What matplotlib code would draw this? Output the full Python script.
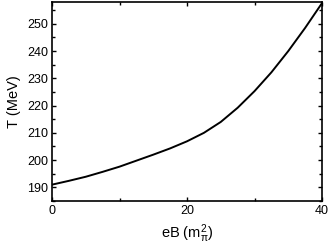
import matplotlib
matplotlib.use("Agg")
import matplotlib.pyplot as plt
from matplotlib.ticker import MultipleLocator

eB = [0, 2.5, 5, 7.5, 10, 12.5, 15, 17.5, 20, 22.5, 25, 27.5, 30, 32.5, 35, 37.5, 40]
T = [191.0, 192.4, 193.9, 195.7, 197.6, 199.8, 202.0, 204.3, 206.9, 210.0,
     214.0, 219.2, 225.3, 232.2, 240.0, 248.5, 257.6]

yticks = [190, 200, 210, 220, 230, 240, 250]
xticks = [0, 20, 40]

plt.rcParams['font.family'] = ['Liberation Sans', 'DejaVu Sans']
plt.rcParams['mathtext.fontset'] = 'custom'
plt.rcParams['mathtext.rm'] = 'Liberation Sans'
plt.rcParams['mathtext.it'] = 'Liberation Sans:italic'
plt.rcParams['mathtext.default'] = 'regular'
fig = plt.figure(figsize=(3.3, 2.47), dpi=100)
ax = fig.add_axes([0.1576, 0.1862, 0.8182, 0.8057])

ax.plot(eB, T, color='black', lw=1.4)

ax.set_xlim(0, 40)
ax.set_ylim(185, 258)
ax.set_xticks(xticks)
ax.set_yticks(yticks)
ax.xaxis.set_minor_locator(MultipleLocator(10))
ax.yaxis.set_minor_locator(MultipleLocator(5))
ax.tick_params(which='both', direction='in', top=True, right=True, labelsize=9, width=1.0)
ax.tick_params(which='major', length=3, pad=3)
ax.tick_params(which='minor', length=2)
for s in ax.spines.values():
    s.set_linewidth(1.2)
ax.set_xlabel(r'eB (m$_{\pi}^{2}$)', fontsize=10.5, labelpad=4)
ax.set_ylabel('T (MeV)', fontsize=10.5, labelpad=4)
fig.savefig('out.png', dpi=100)
